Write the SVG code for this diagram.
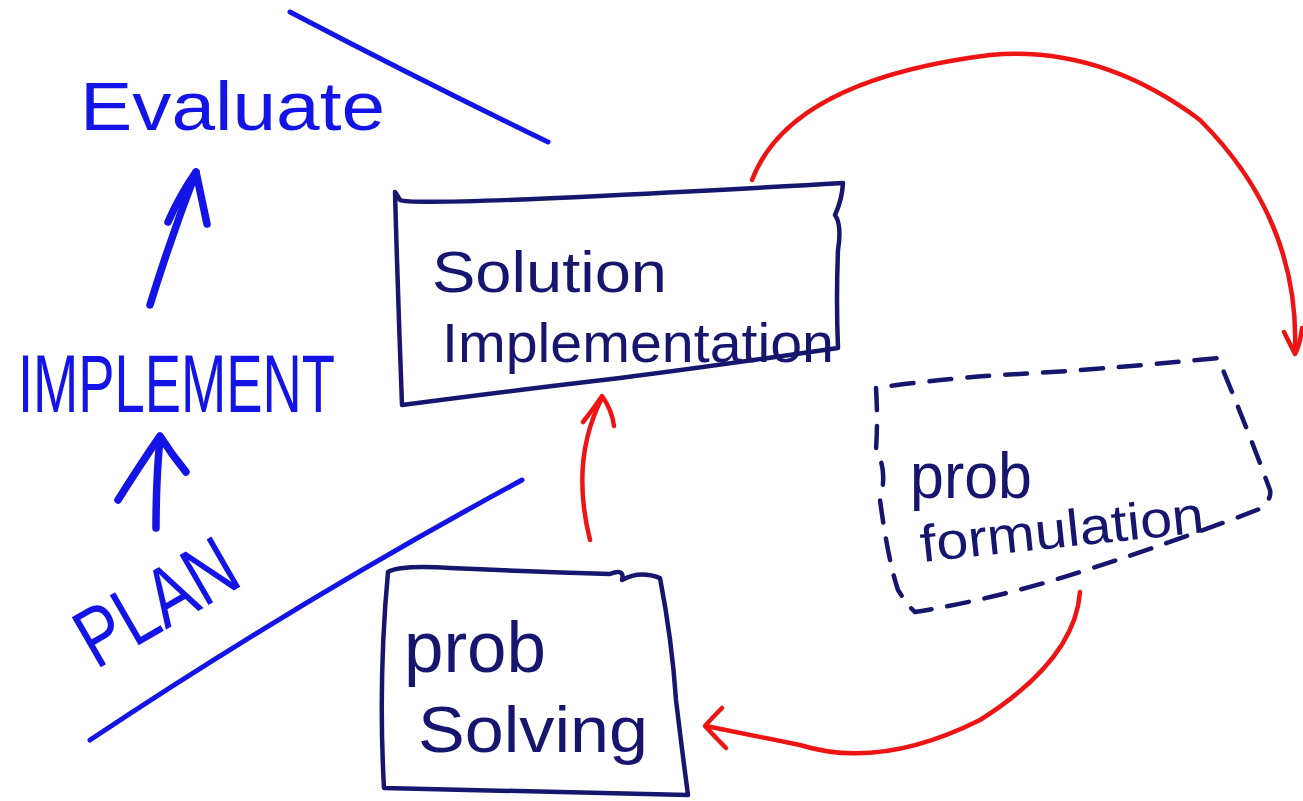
<svg xmlns="http://www.w3.org/2000/svg" width="1303" height="801" viewBox="0 0 1303 801">
  <style>
    .ink-blue { stroke: #1414e6; stroke-width: 5; fill: none; stroke-linecap: round; stroke-linejoin: round; }
    .ink-blue-heavy { stroke: #1414e6; stroke-width: 7.5; fill: none; stroke-linecap: round; stroke-linejoin: round; }
    .ink-navy { stroke: #16166e; stroke-width: 4.5; fill: none; stroke-linecap: round; stroke-linejoin: round; }
    .ink-red { stroke: #ee1414; stroke-width: 4.5; fill: none; stroke-linecap: round; stroke-linejoin: round; }
    .dash { stroke-dasharray: 22 16; }
    .lbl-blue { fill: #1414e6; font-family: "Liberation Sans", "DejaVu Sans", sans-serif; }
    .lbl-navy { fill: #16166e; font-family: "Liberation Sans", "DejaVu Sans", sans-serif; }
  </style>
  <rect width="1303" height="801" fill="#ffffff"/>

  <!-- left column: stages -->
  <g id="evaluate">
    <text class="lbl-blue" x="80" y="130" font-size="68" textLength="305" lengthAdjust="spacingAndGlyphs">Evaluate</text>
  </g>
  <g id="implement">
    <text class="lbl-blue" x="18" y="412" font-size="82" textLength="317" lengthAdjust="spacingAndGlyphs">IMPLEMENT</text>
  </g>
  <g id="plan">
    <text class="lbl-blue" font-size="84" textLength="172" lengthAdjust="spacingAndGlyphs" transform="translate(96 670) rotate(-30)">PLAN</text>
  </g>

  <!-- boxes -->
  <g id="solution-implementation">
    <path class="ink-navy" d="M395 192 Q398 196 400 200 Q410 205 600 196 Q760 188 843 183 Q842 200 835 215 Q842 225 838 250 Q836 300 838 348 Q700 368 620 378 Q500 392 402 405 Q398 300 395 192 Z"/>
    <text class="lbl-navy" x="432" y="292" font-size="58" textLength="235" lengthAdjust="spacingAndGlyphs">Solution</text>
    <text class="lbl-navy" x="442" y="362" font-size="56" textLength="392" lengthAdjust="spacingAndGlyphs">Implementation</text>
  </g>
  <g id="prob-solving">
    <path class="ink-navy" d="M388 572 Q400 565 450 568 Q540 572 610 574 Q625 568 622 580 Q640 570 660 578 Q672 640 676 700 Q682 750 688 795 Q540 792 384 788 Q378 680 388 572 Z"/>
    <text class="lbl-navy" x="404" y="672" font-size="72" textLength="142" lengthAdjust="spacingAndGlyphs">prob</text>
    <text class="lbl-navy" x="418" y="752" font-size="64" textLength="230" lengthAdjust="spacingAndGlyphs">Solving</text>
  </g>
  <g id="prob-formulation">
    <path class="ink-navy dash" d="M876 388 Q878 420 876 450 Q888 470 880 500 Q888 560 898 590 Q908 606 915 612 Q1000 598 1080 572 Q1180 540 1262 508 Q1272 498 1270 490 Q1248 430 1218 358 Q1100 370 1000 375 Q930 380 876 388 Z"/>
    <text class="lbl-navy" x="910" y="498" font-size="64" textLength="122" lengthAdjust="spacingAndGlyphs">prob</text>
    <text class="lbl-navy" font-size="52" textLength="285" lengthAdjust="spacingAndGlyphs" transform="translate(922 562) rotate(-6)">formulation</text>
  </g>

  <!-- connectors -->
  <g id="connectors">
    <!-- blue separators -->
    <path class="ink-blue" d="M290 12 Q420 80 548 142"/>
    <path class="ink-blue" d="M90 740 Q300 600 522 480"/>
    <!-- blue upward arrows -->
    <path class="ink-blue-heavy" d="M150 305 Q170 240 196 172"/>
    <path class="ink-blue-heavy" d="M168 222 Q180 195 196 172 Q202 200 207 224"/>
    <path class="ink-blue-heavy" d="M156 528 Q156 480 160 438"/>
    <path class="ink-blue-heavy" d="M118 500 Q140 465 160 436 Q172 455 186 472"/>
    <!-- red flow: solving -> implementation -->
    <path class="ink-red" d="M590 540 Q570 460 602 398"/>
    <path class="ink-red" d="M583 422 Q594 408 602 396 Q612 410 614 426"/>
    <!-- red flow: implementation -> formulation -->
    <path class="ink-red" d="M752 180 Q790 80 990 55 Q1100 45 1200 120 Q1300 220 1295 352"/>
    <path class="ink-red" d="M1284 332 Q1290 344 1295 354 Q1300 345 1302 328"/>
    <!-- red flow: formulation -> solving -->
    <path class="ink-red" d="M1080 592 Q1075 660 980 720 Q880 770 800 745 Q750 735 706 726"/>
    <path class="ink-red" d="M722 708 Q712 718 705 726 Q716 738 726 748"/>
  </g>
</svg>
